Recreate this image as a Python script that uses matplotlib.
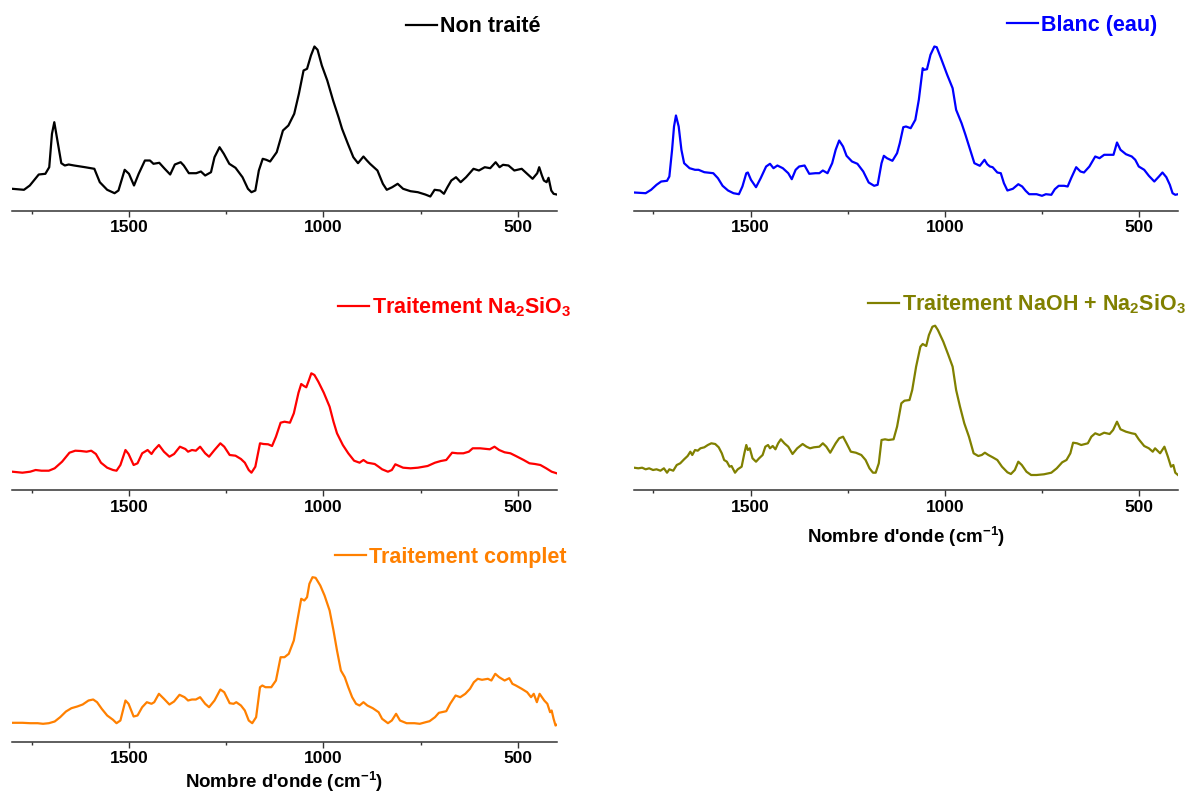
import matplotlib
matplotlib.use('Agg')
import matplotlib.pyplot as plt
from matplotlib.ticker import MultipleLocator
from matplotlib.lines import Line2D

plt.rcParams['font.family'] = ['Liberation Sans', 'DejaVu Sans']
plt.rcParams['font.weight'] = 'bold'
plt.rcParams['mathtext.fontset'] = 'custom'
plt.rcParams['mathtext.rm'] = 'Liberation Sans:bold'
plt.rcParams['mathtext.bf'] = 'Liberation Sans:bold'
plt.rcParams['mathtext.it'] = 'Liberation Sans:bold'
plt.rcParams['mathtext.default'] = 'bf'

# ---------------- data (wavenumber cm-1, intensity a.u.) ----------------
wn_non = [1800, 1770, 1755, 1732, 1715, 1705, 1698, 1692, 1684, 1674, 1665, 1655, 1641, 1613, 1589,
          1575, 1556, 1537, 1527, 1511, 1500, 1487, 1475, 1459, 1446, 1437, 1422, 1408, 1394, 1382,
          1367, 1359, 1346, 1327, 1315, 1304, 1289, 1280, 1267, 1256, 1242, 1226, 1208, 1194, 1185,
          1175, 1166, 1156, 1147, 1137, 1120, 1104, 1090, 1075, 1063, 1051, 1042, 1032, 1023, 1015,
          1004, 990, 975, 961, 952, 937, 923, 911, 897, 888, 880, 861, 847, 837, 823,
          809, 795, 776, 757, 738, 725, 714, 700, 690, 681, 671, 659, 647, 633, 614,
          600, 585, 571, 557, 547, 538, 524, 509, 490, 476, 462, 450, 445, 438, 433,
          426, 421, 414, 408, 400]
int_non = [21.7, 20.7, 25, 36, 36.7, 43.3, 76.7, 88.3, 70, 47.3, 45, 46, 45, 43.3, 41.7,
           28.3, 20.7, 17.3, 20, 40.7, 36.7, 25, 36.7, 50, 50, 46.7, 47.7, 41.7, 36, 46,
           48.3, 45, 37.3, 37.3, 39, 35, 38.3, 53.3, 63.3, 56.7, 46.7, 42.7, 33.3, 21.7, 18.3,
           20, 40, 51.7, 50.7, 49, 58.3, 80, 85, 96.7, 116.7, 140, 141.7, 155, 164, 160.7,
           145, 130, 110, 93.3, 81.7, 66.7, 53.3, 47.3, 54, 50, 46.7, 40, 26.7, 20.7, 23.3,
           26.7, 21.7, 19.3, 18.3, 16, 14, 20.7, 20, 16.7, 23.3, 30, 33.3, 28.3, 33.3, 41.7,
           40, 43.3, 42.3, 48.3, 43.3, 45.7, 45, 40, 41.7, 36.7, 31.7, 37.3, 43.3, 35, 30,
           28.3, 32.7, 20, 16.7, 16]

wn_blanc = [1800, 1770, 1756, 1742, 1730, 1715, 1709, 1702, 1697, 1692, 1685, 1678, 1671, 1657, 1643,
            1634, 1619, 1596, 1584, 1572, 1558, 1544, 1530, 1521, 1511, 1507, 1499, 1486, 1474, 1460,
            1450, 1441, 1431, 1417, 1403, 1394, 1384, 1375, 1361, 1349, 1333, 1323, 1314, 1302, 1290,
            1281, 1272, 1262, 1253, 1239, 1225, 1210, 1196, 1182, 1173, 1163, 1157, 1149, 1135, 1123,
            1116, 1107, 1100, 1088, 1076, 1067, 1057, 1053, 1046, 1037, 1027, 1021, 1010, 994, 980,
            971, 957, 947, 935, 924, 910, 898, 891, 884, 877, 865, 856, 848, 839, 825,
            811, 801, 792, 783, 764, 750, 740, 726, 717, 707, 693, 684, 675, 662, 651,
            642, 628, 613, 602, 590, 576, 566, 557, 548, 534, 519, 510, 501, 487, 475,
            461, 449, 440, 430, 421, 414, 407, 400]
int_blanc = [18, 17.3, 20.7, 25.7, 29, 29.7, 34, 60.7, 84, 95, 84, 60.7, 47.3, 42.3, 40.7,
             40.7, 38.3, 37.3, 32.3, 24.7, 20, 17.3, 16.3, 24, 37.3, 38, 30.7, 23.3, 32.3, 44,
             46.7, 42.3, 45, 42.3, 37.3, 31.3, 40.7, 44, 45, 36.7, 37.3, 37.3, 40, 37.3, 47.3,
             60.7, 70, 64, 54.7, 49, 46.7, 39, 28, 24.7, 25.7, 47.3, 54.7, 52.3, 49.7, 57.3,
             67.3, 83.3, 84, 82.3, 90.7, 110.7, 142.3, 140.7, 141.3, 155.7, 164, 163.3, 152.3, 135.7, 122.3,
             100.7, 87.3, 75.7, 60.7, 47.3, 44.7, 50.7, 46.3, 44, 43.3, 38, 37.3, 27.3, 20, 21.7,
             26.3, 24, 19.7, 16.3, 16.3, 14.7, 16.3, 15.7, 21.3, 24.7, 24.7, 24, 32.3, 43.3, 39,
             38, 44, 54, 52.3, 55.7, 55.7, 55.7, 68, 60.7, 56.3, 54, 50.7, 44, 40.7, 34.7,
             29, 34, 38, 33.3, 25.7, 17.3, 15.7, 16.3]

wn_na2 = [1800, 1774, 1754, 1740, 1725, 1706, 1691, 1672, 1653, 1638, 1624, 1609, 1597, 1585, 1572,
          1556, 1541, 1532, 1522, 1509, 1501, 1488, 1478, 1466, 1452, 1442, 1435, 1423, 1410, 1396,
          1384, 1369, 1355, 1348, 1338, 1328, 1317, 1304, 1294, 1280, 1265, 1255, 1241, 1226, 1212,
          1202, 1192, 1185, 1175, 1163, 1154, 1142, 1132, 1122, 1110, 1100, 1086, 1076, 1064, 1057,
          1050, 1044, 1037, 1031, 1023, 1013, 999, 984, 974, 965, 950, 936, 921, 907, 897,
          887, 878, 868, 858, 849, 834, 824, 815, 805, 795, 776, 757, 732, 713, 698,
          684, 669, 655, 640, 626, 616, 597, 572, 560, 548, 534, 519, 505, 485, 470,
          456, 442, 427, 413, 400]
int_na2 = [18.3, 17.3, 18.3, 20, 19.3, 19.3, 21.7, 28.3, 37.3, 39.3, 39, 38.3, 39.3, 36, 27.3,
           22.3, 20, 19.3, 25, 40, 36, 25, 26.7, 36.7, 40, 36, 40, 45, 38.3, 33.3,
           36, 43.3, 41, 38.3, 40, 39.3, 43.3, 36.7, 33.3, 40, 46.7, 43.3, 35, 34.3, 31,
           27.3, 20, 17.3, 23.3, 46.7, 46, 45.7, 44, 53.3, 67.3, 68.3, 67.3, 76.7, 97.3, 106,
           104, 102.7, 110, 116.7, 115, 108.3, 97.3, 83.3, 68.3, 56.7, 45, 36.7, 29.3, 27.3, 30,
           27.3, 26.7, 26, 23.3, 20.7, 18.3, 20, 25.7, 24, 22.3, 21.7, 22.3, 24, 27.3, 29,
           30, 37.3, 36.7, 36.7, 38.3, 41.7, 41.7, 40.7, 43.3, 40, 37.7, 36.7, 34, 30, 26.7,
           26, 25, 21.7, 18.3, 16.7]

wn_naoh = [1800, 1789, 1779, 1770, 1761, 1751, 1742, 1732, 1723, 1715, 1709, 1699, 1690, 1681, 1671,
           1662, 1655, 1650, 1643, 1636, 1629, 1619, 1610, 1601, 1591, 1582, 1574, 1568, 1561, 1554,
           1549, 1540, 1533, 1523, 1516, 1511, 1507, 1502, 1495, 1486, 1478, 1469, 1462, 1455, 1450,
           1443, 1436, 1429, 1422, 1413, 1403, 1392, 1380, 1366, 1356, 1347, 1337, 1323, 1314, 1305,
           1295, 1281, 1272, 1262, 1253, 1242, 1229, 1215, 1204, 1194, 1185, 1178, 1170, 1163, 1154,
           1145, 1132, 1123, 1112, 1104, 1091, 1084, 1074, 1063, 1057, 1048, 1041, 1032, 1025, 1018,
           1004, 991, 980, 971, 961, 950, 938, 926, 914, 905, 897, 888, 877, 865, 853,
           839, 830, 820, 811, 802, 790, 778, 764, 745, 726, 712, 698, 687, 677, 670,
           660, 649, 632, 623, 613, 602, 590, 576, 567, 557, 548, 534, 519, 510, 501,
           487, 475, 465, 459, 446, 435, 426, 418, 412, 407, 400]
int_naoh = [22.3, 21.7, 22.3, 20.7, 21.7, 20, 20.7, 19.3, 21.7, 17.3, 20.7, 19.3, 25, 26.7, 30.7,
            34, 38.3, 35, 40, 39.3, 41.7, 42.7, 45, 46.7, 46, 42.7, 36.7, 30, 28.3, 23.3,
            24, 17.3, 20.7, 23.3, 36.7, 45, 40, 41.7, 31.7, 28.3, 31.7, 35, 43.3, 45, 41.7,
            44, 40.7, 46.7, 50.7, 46.7, 43.3, 36, 41.7, 46, 43.3, 41.7, 42.7, 43.3, 46.7, 43.3,
            37.3, 46.7, 51.7, 53.3, 46.7, 38.3, 37.3, 35, 30, 21.7, 17.3, 17.3, 26.7, 50, 50.7,
            50, 50.7, 63.3, 86.7, 89.3, 90, 100, 123.3, 143.3, 146, 144, 155, 163.3, 164.3, 160,
            148.3, 135, 123.3, 100, 83.3, 66.7, 53.3, 36.7, 34, 35, 37.3, 35, 32.7, 30, 23.3,
            17.7, 16, 20, 28.3, 25, 18.3, 15, 15, 15.7, 17.3, 21.7, 27.7, 30, 36.7, 47.3,
            46.7, 45, 46.7, 53.3, 56.7, 55, 57.3, 56, 60, 68.3, 60.7, 58.3, 56.7, 56, 50.7,
            44, 41.7, 38.3, 41.7, 36.7, 43.3, 33.3, 23.3, 25, 17.3, 15]

wn_compl = [1800, 1774, 1754, 1735, 1721, 1706, 1691, 1677, 1662, 1648, 1633, 1619, 1604, 1592, 1582,
            1570, 1556, 1541, 1532, 1522, 1509, 1501, 1488, 1478, 1466, 1454, 1442, 1435, 1423, 1410,
            1396, 1384, 1370, 1357, 1348, 1338, 1328, 1317, 1304, 1294, 1280, 1265, 1255, 1241, 1231,
            1224, 1212, 1202, 1192, 1183, 1173, 1163, 1157, 1149, 1134, 1122, 1110, 1100, 1089, 1076,
            1067, 1057, 1049, 1042, 1036, 1028, 1020, 1008, 997, 984, 974, 965, 955, 945, 936,
            926, 916, 907, 897, 887, 873, 858, 849, 834, 824, 813, 803, 786, 766, 752,
            737, 727, 713, 703, 684, 674, 660, 648, 635, 623, 613, 603, 592, 577, 568,
            558, 548, 534, 522, 514, 505, 490, 476, 466, 459, 451, 444, 432, 424, 417,
            413, 408, 403, 400]
int_compl = [18.7, 18.7, 18.3, 18.3, 17.7, 18.3, 20, 24.3, 30, 33.3, 35, 37, 41, 42, 39.3,
             32.7, 26, 21.7, 18.3, 21, 41, 37.7, 25, 26, 34.3, 39.3, 37.7, 39.3, 47.7, 42.7,
             37, 40, 46.7, 44.3, 41, 42, 42, 44.3, 37.7, 34.3, 41, 52, 49.3, 38.3, 37.7,
             39.3, 36, 31, 21, 18.3, 24.3, 54.3, 56, 54.3, 54.3, 61, 84.3, 84.3, 87.7, 101,
             121, 142.7, 141, 144.3, 157.7, 164.3, 163.7, 156, 146, 131, 111, 91, 71, 64.3, 54.3,
             44.3, 37.7, 36, 39.3, 36, 33.3, 29.3, 22.7, 18.3, 21, 27.7, 21, 18.3, 18.3, 17.7,
             19.3, 20.3, 24.3, 28.7, 30.3, 37.7, 46, 44.3, 47.7, 52.7, 59.3, 62.7, 61.7, 62.7, 61,
             67.7, 64.3, 61, 63.3, 57.7, 56, 52.7, 49.3, 44.3, 47.7, 39.3, 47.7, 41, 37.7, 29.3,
             31, 22.7, 16, 16.7]

labels = ['Non traité', 'Blanc (eau)', r'Traitement Na$_{2}$SiO$_{3}$',
          r'Traitement NaOH + Na$_{2}$SiO$_{3}$', 'Traitement complet']
colors = ['#000000', '#0000FF', '#FF0000', '#808000', '#FF8000']
series_wn = [wn_non, wn_blanc, wn_na2, wn_naoh, wn_compl]
series_int = [int_non, int_blanc, int_na2, int_naoh, int_compl]
xlabel = r"Nombre d'onde (cm$^{-1}$)"

# ---------------- layout (pixels) ----------------
W, H = 1193, 796
fig = plt.figure(figsize=(W / 100, H / 100), dpi=100)

# left, right, bottom (px from top), legend handle-left x, legend center y, xlabel pad (None = no label)
layout = [
    (12.3, 556.7, 210.5, 406, 27, None),
    (634.0, 1178.0, 210.5, 1007, 25, None),
    (12.3, 556.7, 490.0, 338, 307, None),
    (634.0, 1178.0, 490.0, 868, 304, 7),
    (12.3, 556.7, 741.5, 335, 557, 2.5),
]
AX_H = 200

for i, (l, r, b, lx, ly, xpad) in enumerate(layout):
    ax = fig.add_axes([l / W, (H - b) / H, (r - l) / W, AX_H / H])
    ax.plot(series_wn[i], series_int[i], color=colors[i], lw=1.6, solid_joinstyle='round')
    ax.set_xlim(1800, 400)
    ax.set_ylim(0, AX_H)
    for s in ('top', 'right', 'left'):
        ax.spines[s].set_visible(False)
    ax.spines['bottom'].set_linewidth(1.1)
    ax.spines['bottom'].set_color('#333333')
    ax.set_yticks([])
    ax.xaxis.set_major_locator(MultipleLocator(500))
    ax.xaxis.set_minor_locator(MultipleLocator(250))
    ax.tick_params(axis='x', which='major', direction='out', length=4, width=1.0,
                   labelsize=12.5, pad=3, color='#333333')
    ax.tick_params(axis='x', which='minor', direction='out', length=2.5, width=1.0, color='#333333')
    for t in ax.get_xticklabels():
        t.set_fontweight('bold')
    if xpad is not None:
        ax.set_xlabel(xlabel, fontsize=13.5, fontweight='bold', labelpad=xpad)
    h = Line2D([], [], color=colors[i], lw=1.6)
    leg = ax.legend([h], [labels[i]], loc='center left',
                    bbox_to_anchor=(lx / W, 1 - ly / H), bbox_transform=fig.transFigure,
                    frameon=False, handlelength=1.45, handletextpad=0.15,
                    borderpad=0, borderaxespad=0,
                    prop={'size': 15.5, 'weight': 'bold'})
    for t in leg.get_texts():
        t.set_color(colors[i])

fig.savefig('out.png', dpi=100)
